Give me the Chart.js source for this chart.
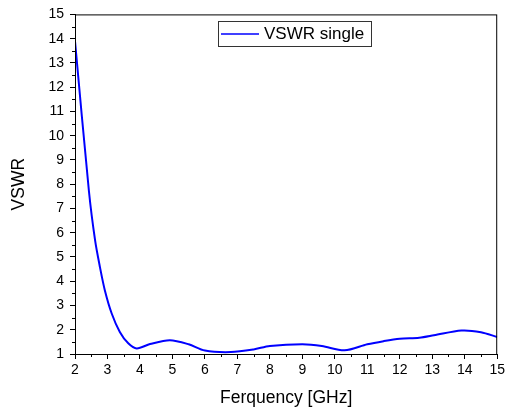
<!DOCTYPE html>
<html>
<head>
<meta charset="utf-8">
<script src="https://cdn.jsdelivr.net/npm/chart.js@4/dist/chart.umd.min.js"></script>
<style>
  body { margin: 0; background: #fff; }
  #wrap { width: 508px; height: 412px; }
</style>
</head>
<body>
<div id="wrap"><canvas id="vswrChart"></canvas></div>
<script>
const freq = [2, 2.43, 2.62, 2.77, 2.92, 3.13, 3.38, 3.64, 3.9, 4.31, 4.92, 5.5, 6.0, 6.8, 7.5, 8.0, 9.0, 9.6, 10.3, 11.0, 11.5, 12.0, 12.6, 13.05, 13.9, 14.5, 15];
const vswr = [13.9, 7.7, 5.67, 4.57, 3.62, 2.67, 1.91, 1.44, 1.23, 1.41, 1.57, 1.40, 1.14, 1.08, 1.19, 1.33, 1.40, 1.33, 1.15, 1.40, 1.53, 1.63, 1.67, 1.77, 1.97, 1.90, 1.70];
const xTicks = [2, 3, 4, 5, 6, 7, 8, 9, 10, 11, 12, 13, 14, 15];
const yTicks = [1, 2, 3, 4, 5, 6, 7, 8, 9, 10, 11, 12, 13, 14, 15];

const font = 'Liberation Sans, Arial, sans-serif';

// frame, minor ticks and the boxed legend inside the plot
const framePlugin = {
  id: 'frame',
  afterDraw(chart) {
    const ctx = chart.ctx;
    const a = chart.chartArea;
    const xs = chart.scales.x, ys = chart.scales.y;
    ctx.save();
    ctx.strokeStyle = '#000';
    ctx.lineWidth = 1;
    ctx.strokeRect(a.left + 0.5, a.top + 0.5, a.right - a.left - 1, a.bottom - a.top);

    ctx.beginPath();
    for (let i = 0; i < xTicks.length - 1; i++) {
      const px = Math.round(xs.getPixelForValue(xTicks[i] + 0.5)) + 0.5;
      ctx.moveTo(px, a.bottom);
      ctx.lineTo(px, a.bottom + 3);
    }
    for (let i = 0; i < yTicks.length - 1; i++) {
      const py = Math.round(ys.getPixelForValue(yTicks[i] + 0.5)) + 0.5;
      ctx.moveTo(a.left, py);
      ctx.lineTo(a.left - 3, py);
    }
    ctx.stroke();

    const ds = chart.data.datasets[0];
    const lx = 218, ly = 21, lw = 153, lh = 25;
    ctx.fillStyle = '#fff';
    ctx.fillRect(lx, ly, lw, lh);
    ctx.strokeStyle = '#333';
    ctx.strokeRect(lx + 0.5, ly + 0.5, lw, lh);
    ctx.strokeStyle = ds.borderColor;
    ctx.lineWidth = 1.5;
    ctx.beginPath();
    ctx.moveTo(lx + 3, ly + 13);
    ctx.lineTo(lx + 41, ly + 13);
    ctx.stroke();
    ctx.fillStyle = '#000';
    ctx.font = '17px ' + font;
    ctx.textBaseline = 'middle';
    ctx.fillText(ds.label, lx + 46, ly + 13);
    ctx.restore();
  }
};

new Chart(document.querySelector('#vswrChart'), {
  type: 'line',
  data: {
    datasets: [{
      label: 'VSWR single',
      data: freq.map((f, i) => ({ x: f, y: vswr[i] })),
      borderColor: '#0000ff',
      borderWidth: 2,
      pointRadius: 0,
      tension: 0.3,
      fill: false
    }]
  },
  options: {
    responsive: true,
    maintainAspectRatio: false,
    animation: false,
    layout: { padding: { left: 0, right: 10, top: 12, bottom: 0 } },
    plugins: {
      legend: { display: false },
      tooltip: { enabled: false }
    },
    scales: {
      x: {
        type: 'linear',
        min: 2,
        max: 15,
        afterBuildTicks: s => { s.ticks = xTicks.map(v => ({ value: v })); },
        afterFit: s => { s.height = 58; },
        grid: { drawOnChartArea: false, drawTicks: true, tickLength: 5, color: '#000' },
        border: { color: '#000' },
        ticks: { color: '#000', font: { family: font, size: 14 }, padding: 3, maxRotation: 0 },
        title: { display: true, text: 'Ferquency [GHz]', color: '#000', font: { family: font, size: 17.5 }, padding: { top: 4, bottom: 3 } }
      },
      y: {
        min: 1,
        max: 15,
        afterBuildTicks: s => { s.ticks = yTicks.map(v => ({ value: v })); },
        afterFit: s => { s.width = 75; },
        grid: { drawOnChartArea: false, drawTicks: true, tickLength: 5, color: '#000' },
        border: { color: '#000' },
        ticks: { color: '#000', font: { family: font, size: 14 }, padding: 6 },
        title: { display: true, text: 'VSWR', color: '#000', font: { family: font, size: 17.5 }, padding: { top: 9, bottom: 0 } }
      }
    }
  },
  plugins: [framePlugin]
});
</script>
</body>
</html>
